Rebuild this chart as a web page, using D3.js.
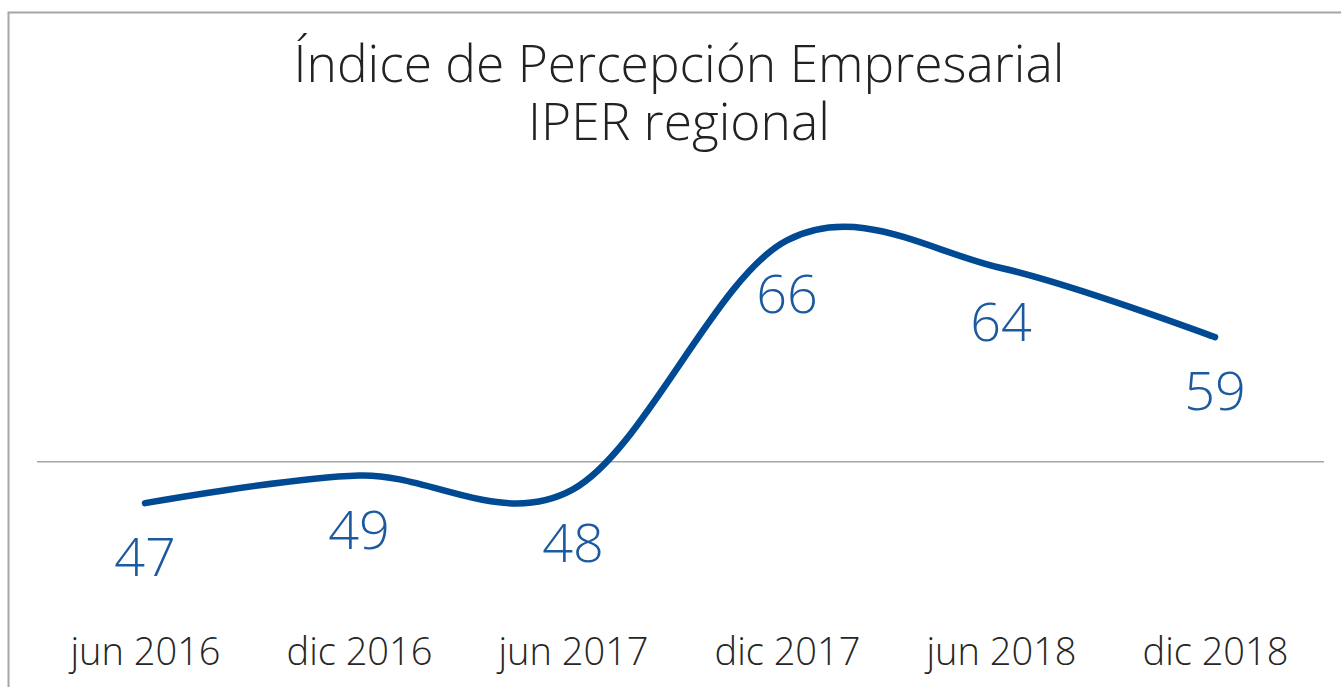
<!DOCTYPE html>
<html>
<head>
<meta charset="utf-8">
<script src="https://cdn.jsdelivr.net/npm/d3@7"></script>
<style>
  html, body { margin: 0; padding: 0; background: #fff; }
  svg { display: block; }
</style>
</head>
<body>
<svg id="chart" width="1341" height="687"></svg>
<script>
// data
var periods = ['jun 2016', 'dic 2016', 'jun 2017', 'dic 2017', 'jun 2018', 'dic 2018'];
var iperValues = [47, 49, 48, 66, 64, 59];
var neutralLevel = 50;
var titleLines = ['Índice de Percepción Empresarial', 'IPER regional'];

var svg = d3.select('#chart');

// frame
svg.append('rect')
  .attr('x', 8.5).attr('y', 12.5)
  .attr('width', 1345).attr('height', 700)
  .style('fill', 'none')
  .style('stroke', '#a6a6a6')
  .style('stroke-width', 2);

var xScale = d3.scalePoint()
  .domain(periods)
  .range([145, 1215]);

var yScale = d3.scaleLinear()
  .domain([40, 70])
  .range([600, 185]);

// title, one text per line
svg.selectAll('.title')
  .data(titleLines)
  .enter().append('text')
  .attr('class', 'title')
  .attr('x', 679)
  .attr('y', (d, i) => 82 + i * 58)
  .attr('text-anchor', 'middle')
  .style('font-family', '"Open Sans", sans-serif')
  .style('font-weight', 300)
  .style('font-size', '51.5px')
  .style('fill', '#222')
  .text(d => d);

// neutral line at 50
svg.append('line')
  .attr('x1', 37).attr('x2', 1324)
  .attr('y1', yScale(neutralLevel)).attr('y2', yScale(neutralLevel))
  .style('stroke', '#a6a6a6')
  .style('stroke-width', 1.5);

// x axis labels (no axis line / ticks in the reference)
var xAxis = d3.axisBottom(xScale).tickSize(0).tickPadding(0);
var axisG = svg.append('g')
  .attr('transform', 'translate(0,630)')
  .call(xAxis);
axisG.select('.domain').remove();
axisG.selectAll('text')
  .attr('dy', 0)
  .attr('y', 35)
  .style('font-family', '"Open Sans", sans-serif')
  .style('font-weight', 350)
  .style('font-size', '38px')
  .style('fill', '#262626');

// smoothed line
var line = d3.line()
  .x((d, i) => xScale(periods[i]))
  .y(d => yScale(d))
  .curve(d3.curveCardinal.tension(0));

svg.append('path')
  .datum(iperValues)
  .style('fill', 'none')
  .style('stroke', '#004a93')
  .style('stroke-width', 6.5)
  .style('stroke-linecap', 'round')
  .attr('d', line);

// data labels under each point
svg.selectAll('.val')
  .data(iperValues)
  .enter().append('text')
  .attr('class', 'val')
  .attr('x', (d, i) => xScale(periods[i]))
  .attr('y', d => yScale(d) + 73)
  .attr('text-anchor', 'middle')
  .style('font-family', '"Open Sans", sans-serif')
  .style('font-weight', 300)
  .style('font-size', '54px')
  .style('fill', '#1c5aa0')
  .text(d => d);
</script>
</body>
</html>
